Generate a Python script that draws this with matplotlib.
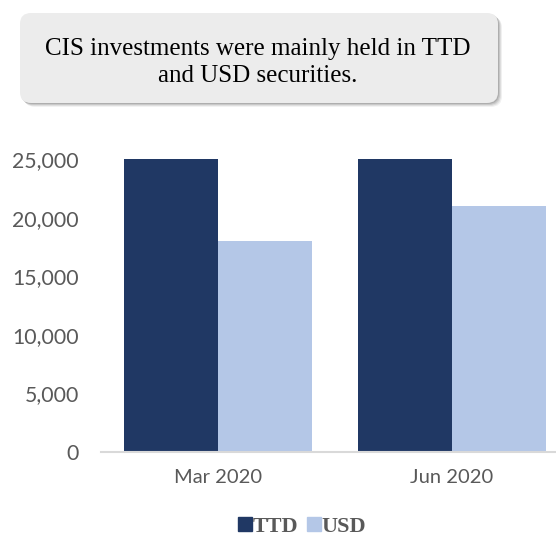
import matplotlib
matplotlib.use("Agg")
import matplotlib.pyplot as plt
import numpy as np
from matplotlib.patches import FancyBboxPatch
from matplotlib.lines import Line2D

# data
categories = ["Mar 2020", "Jun 2020"]
series_names = ["TTD", "USD"]
ttd_values = [25000, 25000]
usd_values = [18000, 21000]
y_ticks = [0, 5000, 10000, 15000, 20000, 25000]

TTD_COLOR = "#203864"
USD_COLOR = "#b4c7e7"
TEXT_GRAY = "#595959"

fig = plt.figure(figsize=(5.56, 5.39), dpi=100)
ax = fig.add_axes([101 / 556, 1 - 452 / 539, 468 / 556, 293 / 539])

x = np.arange(len(categories))
width = 0.4
ax.bar(x - width / 2, ttd_values, width, color=TTD_COLOR, label=series_names[0])
ax.bar(x + width / 2, usd_values, width, color=USD_COLOR, label=series_names[1])

ax.set_xlim(-0.5, 1.5)
ax.set_ylim(0, 25000)
ax.set_yticks(y_ticks)
ax.set_yticklabels([f"{v:,}" for v in y_ticks])
ax.set_xticks(x)
ax.set_xticklabels(categories)
for side in ("top", "right", "left"):
    ax.spines[side].set_visible(False)
ax.spines["bottom"].set_color("#d9d9d9")
ax.spines["bottom"].set_linewidth(1.5)
ax.tick_params(axis="y", length=0, pad=16, labelsize=15.3, labelcolor=TEXT_GRAY)
ax.tick_params(axis="x", length=0, pad=12, labelsize=14.5, labelcolor=TEXT_GRAY)
for lab in ax.get_xticklabels() + ax.get_yticklabels():
    lab.set_fontfamily("Lato")

# title box with a soft shadow
bx, by, bw, bh = 20 / 556, 1 - 103 / 539, 478 / 556, 90 / 539
for i, a in enumerate([0.06, 0.08, 0.10, 0.12]):
    off = (4 - i) / 556
    fig.patches.append(FancyBboxPatch(
        (bx + off, by - off), bw, bh,
        boxstyle="round,pad=0,rounding_size=0.02",
        transform=fig.transFigure, facecolor="#000000", edgecolor="none",
        alpha=a, zorder=1))
fig.patches.append(FancyBboxPatch(
    (bx, by), bw, bh, boxstyle="round,pad=0,rounding_size=0.02",
    transform=fig.transFigure, facecolor="#ececec", edgecolor="none", zorder=2))
fig.text(258 / 556, 1 - 55 / 539, "CIS investments were mainly held in TTD",
         ha="center", va="baseline", fontsize=18, family="Liberation Serif",
         color="black", zorder=3)
fig.text(258 / 556, 1 - 82 / 539, "and USD securities.",
         ha="center", va="baseline", fontsize=18, family="Liberation Serif",
         color="black", zorder=3)

handles = [Line2D([], [], marker="s", linestyle="none", markersize=10,
                  color=c) for c in (TTD_COLOR, USD_COLOR)]
fig.legend(handles, series_names, loc="center", bbox_to_anchor=(302 / 556, 1 - 527 / 539),
           ncol=2, frameon=False, handlelength=0.6, handletextpad=0.05,
           columnspacing=0.4, borderpad=0,
           prop={"family": "Liberation Serif", "weight": "bold", "size": 16},
           labelcolor=TEXT_GRAY)

fig.savefig("out.png", dpi=100)
